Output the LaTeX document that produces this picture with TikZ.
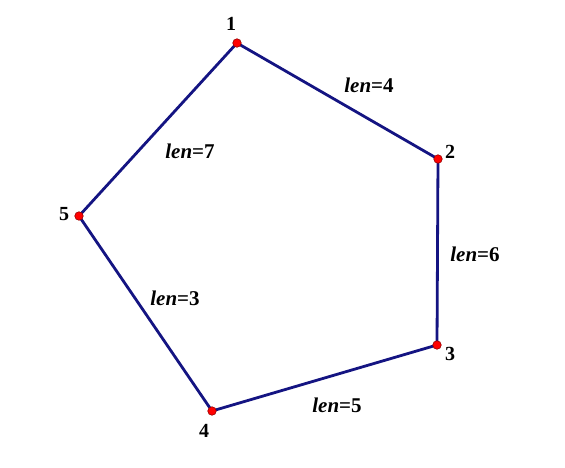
\documentclass[tikz,border=0pt]{standalone}
\usepackage{fontspec}
\setmainfont{Liberation Serif}
\begin{document}
\begin{tikzpicture}[x=1pt,y=-1pt,
  edge/.style={draw={rgb,255:red,20;green,20;blue,130}, line width=2.8pt},
  pt/.style={circle, fill=red, draw={rgb,255:red,150;green,0;blue,0}, line width=0.6pt, inner sep=0pt, minimum size=8.5pt},
  lab/.style={font=\fontsize{20}{22}\selectfont\bfseries, inner sep=0pt},
  elab/.style={font=\fontsize{21}{23}\selectfont\bfseries, inner sep=0pt},
]
\useasboundingbox (0,0) rectangle (565,467);
\coordinate (p1) at (237,43);
\coordinate (p2) at (438,159);
\coordinate (p3) at (437,345);
\coordinate (p4) at (212,411);
\coordinate (p5) at (79,216);
\path[edge] (p1) -- (p2) -- (p3) -- (p4) -- (p5) -- cycle;
\foreach \i in {1,...,5} {\node[pt] (d\i) at (p\i) {};}
\node[lab] (l1) at (231,24) {1};
\node[lab] (l2) at (450,152) {2};
\node[lab] (l3) at (450,354) {3};
\node[lab] (l4) at (204,431) {4};
\node[lab] (l5) at (64,214) {5};
\node[elab] (e12) at (369,85) {\textit{len}=4};
\node[elab] (e23) at (475,254) {\textit{len}=6};
\node[elab] (e34) at (337,405) {\textit{len}=5};
\node[elab] (e45) at (175,298) {\textit{len}=3};
\node[elab] (e51) at (190,151) {\textit{len}=7};
\end{tikzpicture}
\end{document}
